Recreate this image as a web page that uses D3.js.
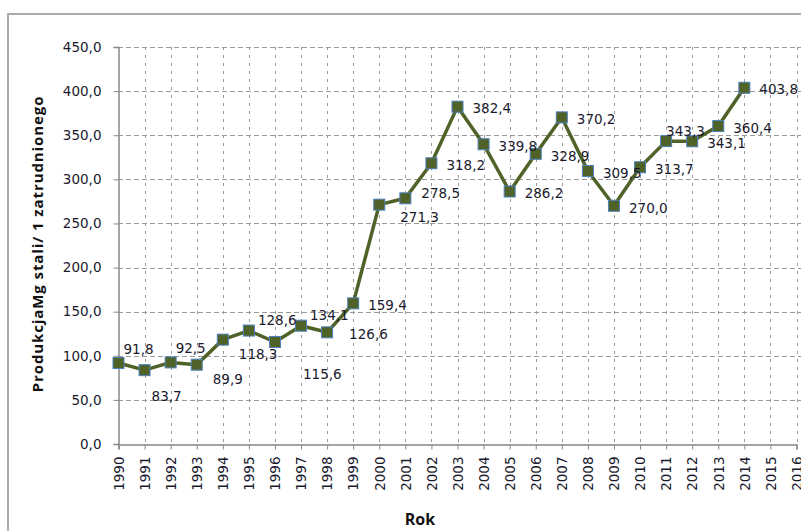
<!DOCTYPE html>
<html>
<head>
<meta charset="utf-8">
<script src="https://cdn.jsdelivr.net/npm/d3@7"></script>
<style>
  body { margin: 0; background: #fff; }
  svg text { font-family: "DejaVu Sans", Verdana, sans-serif; }
</style>
</head>
<body>
<div id="chart"></div>
<script>
const years = d3.range(1990, 2017);
const dataYears = d3.range(1990, 2015);
const values = [91.8, 83.7, 92.5, 89.9, 118.3, 128.6, 115.6, 134.1, 126.6, 159.4,
                271.3, 278.5, 318.2, 382.4, 339.8, 286.2, 328.9, 370.2, 309.5, 270.0,
                313.7, 343.3, 343.1, 360.4, 403.8];
const yTicks = [0, 50, 100, 150, 200, 250, 300, 350, 400, 450];
// where each data label sits relative to its point
const labelSide = ["up", "down", "up", "downright", "downright", "upright", "downfar", "upright", "rightfar", "right",
                   "downright2", "rightup", "right", "right", "right", "right", "right", "right", "right", "right",
                   "right", "above", "right", "right", "right"];

const width = 801, height = 531;
const fmt = v => d3.format(".1f")(v).replace(".", ",");

const svg = d3.select("#chart").append("svg")
    .attr("width", width)
    .attr("height", height);

// outer chart frame
svg.append("rect")
    .attr("x", 8).attr("y", 14)
    .attr("width", 820).attr("height", 540)
    .attr("fill", "none")
    .attr("stroke", "#aaaaaa")
    .attr("stroke-width", 2);

const x = d3.scaleLinear().domain([1990, 2016]).range([118.5, 796.5]);
const y = d3.scaleLinear().domain([0, 450]).range([444, 47]);

// grid
svg.append("g").selectAll("line")
    .data(yTicks.slice(1))
    .join("line")
    .attr("x1", 118).attr("x2", width)
    .attr("y1", d => Math.round(y(d)) + 0.5).attr("y2", d => Math.round(y(d)) + 0.5)
    .attr("stroke", "#9a9a9a")
    .attr("stroke-dasharray", "5,3");

svg.append("g").selectAll("line")
    .data(years.slice(1))
    .join("line")
    .attr("x1", d => Math.round(x(d)) + 0.5).attr("x2", d => Math.round(x(d)) + 0.5)
    .attr("y1", 47).attr("y2", 444)
    .attr("stroke", "#9a9a9a")
    .attr("stroke-dasharray", "3,5");

// axes
const yAxis = d3.axisLeft(y).tickValues(yTicks).tickSize(5).tickFormat(fmt);
const gy = svg.append("g")
    .attr("transform", "translate(118.5,0)")
    .call(yAxis);
gy.select(".domain").attr("stroke", "#888").attr("stroke-width", 1.5);
gy.selectAll(".tick line").attr("stroke", "#888");
gy.selectAll(".tick text")
    .attr("x", -17)
    .attr("font-size", 13.5)
    .attr("fill", "#1a1a2e");

const xAxis = d3.axisBottom(x).tickValues(years).tickSize(5).tickFormat(d3.format("d"));
const gx = svg.append("g")
    .attr("transform", "translate(0,444.5)")
    .call(xAxis);
gx.select(".domain").attr("stroke", "#888").attr("stroke-width", 1.5);
gx.selectAll(".tick line").attr("stroke", "#888");
gx.selectAll(".tick text")
    .attr("font-size", 13.5)
    .attr("fill", "#1a1a2e")
    .attr("transform", "rotate(-90)")
    .attr("text-anchor", "end")
    .attr("x", -12)
    .attr("y", 0)
    .attr("dy", "0.35em");

// axis titles
svg.append("text")
    .attr("transform", "translate(43,244) rotate(-90)")
    .attr("text-anchor", "middle")
    .attr("font-size", 15)
    .attr("font-weight", "bold")
    .attr("letter-spacing", 0.9)
    .style("font-family", "'Open Sans', sans-serif")
    .attr("fill", "#111")
    .text("ProdukcjaMg stali/  1 zatrudnionego");

svg.append("text")
    .attr("x", 420).attr("y", 525)
    .attr("text-anchor", "middle")
    .attr("font-size", 16)
    .attr("font-weight", "bold")
    .style("font-family", "'Open Sans', sans-serif")
    .attr("fill", "#111")
    .text("Rok");

// series
const pts = dataYears.map((yr, i) => ({ year: yr, value: values[i], side: labelSide[i] }));

svg.append("path")
    .datum(pts)
    .attr("fill", "none")
    .attr("stroke", "#4f6228")
    .attr("stroke-width", 3.5)
    .attr("stroke-linejoin", "round")
    .attr("d", d3.line().x(d => x(d.year)).y(d => y(d.value)));

svg.append("g").selectAll("rect")
    .data(pts)
    .join("rect")
    .attr("x", d => x(d.year) - 5.5)
    .attr("y", d => y(d.value) - 5.5)
    .attr("width", 11).attr("height", 11)
    .attr("fill", "#4f6228")
    .attr("stroke", "#4f81bd")
    .attr("stroke-width", 1);

const offsets = {
    up: [5, -14],
    down: [7, 26],
    downright: [16, 15],
    downright2: [21, 13],
    downfar: [28, 32],
    upright: [9, -10],
    right: [15, 2],
    rightfar: [22, 2],
    rightup: [16, -5],
    above: [0, -10]
};

svg.append("g").selectAll("text")
    .data(pts)
    .join("text")
    .attr("x", d => x(d.year) + offsets[d.side][0])
    .attr("y", d => y(d.value) + offsets[d.side][1])
    .attr("dy", "0.35em")
    .attr("font-size", 13.5)
    .attr("fill", "#1a1a2e")
    .text(d => fmt(d.value));
</script>
</body>
</html>
